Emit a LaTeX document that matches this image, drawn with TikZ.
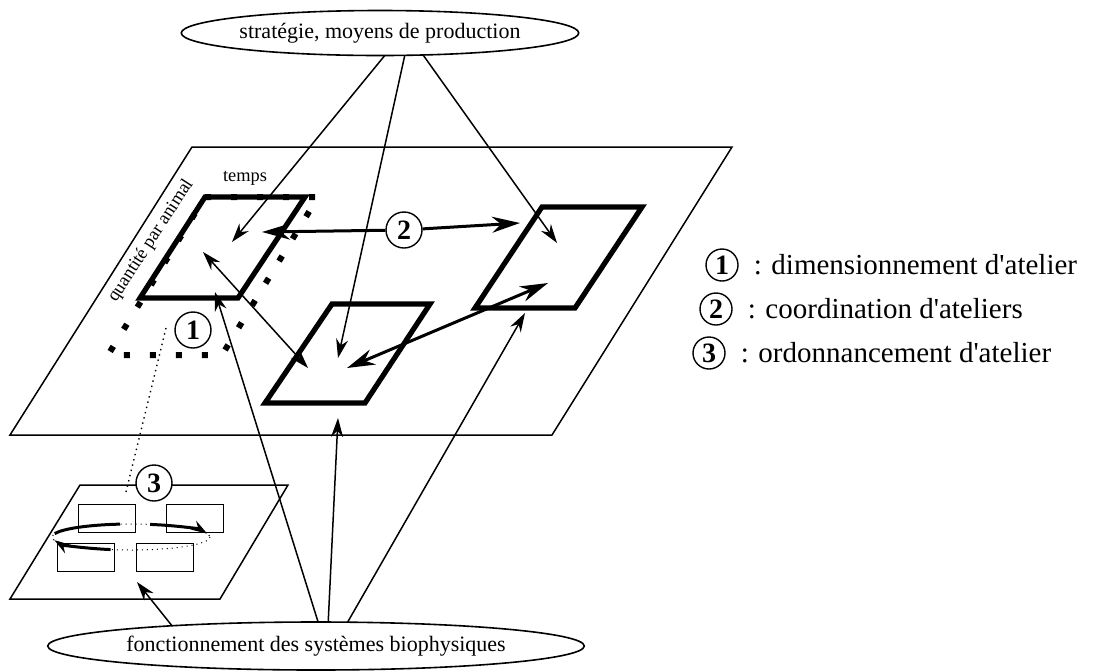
\documentclass[tikz,border=0pt]{standalone}
\usepackage{fontspec}
\setmainfont{Liberation Serif}
\usetikzlibrary{arrows.meta,shapes.geometric,positioning}
\tikzset{
    plane/.style={line width=0.75pt, line join=miter},
    atelier/.style={line width=2.6pt, line join=miter},
    dimbox/.style={line width=3pt, dash pattern=on 3pt off 10pt},
    arr/.style={-{Stealth[length=9.5pt,width=6pt]}, line width=0.75pt},
    darr/.style={{Stealth[length=9.5pt,width=6pt]}-{Stealth[length=9.5pt,width=6pt]}, line width=0.75pt},
    bigarr/.style={-{Stealth[length=14pt,width=8pt]}, line width=1.5pt},
    bigdarr/.style={{Stealth[length=14pt,width=8pt]}-{Stealth[length=14pt,width=8pt]}, line width=1.5pt},
    looparr/.style={-{Stealth[length=8pt,width=5pt]}, line width=1.5pt},
    num/.style={circle, draw, fill=white, line width=0.7pt, inner sep=0pt, minimum size=18pt, font=\fontsize{14}{14}\selectfont\bfseries},
    oval/.style={ellipse, draw, line width=0.8pt, inner sep=0pt, outer sep=0pt, font=\fontsize{11}{13}\selectfont},
}

\begin{document}
\begin{tikzpicture}[x=0.5pt, y=-0.5pt]
    \useasboundingbox (0,0) rectangle (1093,671);
    \node[oval, minimum width=158pt, minimum height=22.5pt] (strat) at (380,33) {stratégie, moyens de production};
    \node[oval, minimum width=209pt, minimum height=24pt] (bio) at (316,646) {fonctionnement des systèmes biophysiques};

    \draw[plane] (192,147) -- (732,147) -- (552,435) -- (10,435) -- cycle;
    \draw[plane] (80,485) -- (288,485) -- (220,599) -- (10,599) -- cycle;
    \foreach \x/\y in {78/504, 166/504, 57/543, 136/543} {
        \draw[line width=0.5pt] (\x,\y) rectangle ++(57,28);
    }

    \coordinate (loop) at (131,537);
    \draw[dotted, line width=0.5pt] (loop) ellipse [x radius=79, y radius=13];
    \draw[line width=1.5pt] ([shift={(loop)}]195:79 and 13) arc [start angle=195, end angle=262, x radius=79, y radius=13];
    \draw[looparr] ([shift={(loop)}]284:79 and 13) arc [start angle=284, end angle=345, x radius=79, y radius=13];
    \draw[looparr] ([shift={(loop)}]105:79 and 13) arc [start angle=105, end angle=166, x radius=79, y radius=13];

    \draw[dimbox] (205,197) -- (318,197) -- (222,355) -- (108,355) -- cycle;
    \draw[atelier] (205,197) -- (305,197) -- (238,298) -- (140,298) -- cycle;
    \draw[atelier] (332,304) -- (430,304) -- (365,403) -- (265,403) -- cycle;
    \draw[atelier] (542,207) -- (642,207) -- (575,308) -- (475,308) -- cycle;

    \coordinate (w1a) at (232,242);
    \coordinate (w2a) at (338,358);
    \coordinate (w3a) at (557,243);
    \coordinate (w1b) at (215,292);
    \coordinate (w2b) at (338,418);
    \coordinate (w3b) at (525,313);
    \coordinate (sub) at (137,582);
    \coordinate (w1c) at (203,252);
    \coordinate (w2c) at (308,368);
    \coordinate (w2d) at (347,368);
    \coordinate (w3d) at (548,283);
    \coordinate (w1e) at (262,232);
    \coordinate (w3e) at (520,223);
    \coordinate (dot1) at (166,328);
    \coordinate (dot2) at (126,492);

    \draw[arr] (strat.282) -- (w1a);
    \draw[arr] (strat.318) -- (w2a);
    \draw[arr] (strat.333) -- (w3a);
    \draw[arr] (bio.85) -- (w1b);
    \draw[arr] (bio.63) -- (w2b);
    \draw[arr] (bio.37) -- (w3b);
    \draw[arr] (bio.172) -- (sub);
    \draw[darr] (w1c) -- (w2c);
    \draw[bigdarr] (w2d) -- (w3d);
    \node[num] (c2) at (404,230) {2};
    \draw[bigarr] (c2) -- (w1e);
    \draw[bigarr] (c2) -- (w3e);
    \draw[dotted, line width=0.7pt] (dot1) -- (dot2);
    \node[num] (c1) at (193,330) {1};
    \node[num] (c3) at (154,483) {3};

    \node[font=\fontsize{9.2}{10}\selectfont] (temps) at (245,178) {temps};
    \node[font=\fontsize{9.2}{10}\selectfont, rotate=57, inner sep=1pt] (qte) at (151,241) {quantité par animal};

    \foreach \n/\x/\y/\t in {1/722/265/dimensionnement d\textquotesingle atelier, 2/716/309/coordination d\textquotesingle ateliers, 3/709/353/ordonnancement d\textquotesingle atelier} {
        \node[num, minimum size=16pt] (l\n) at (\x,\y) {\n};
        \node[right=4pt of l\n, font=\fontsize{14.5}{16}\selectfont] (t\n) {: \t};
    }
\end{tikzpicture}
\end{document}
